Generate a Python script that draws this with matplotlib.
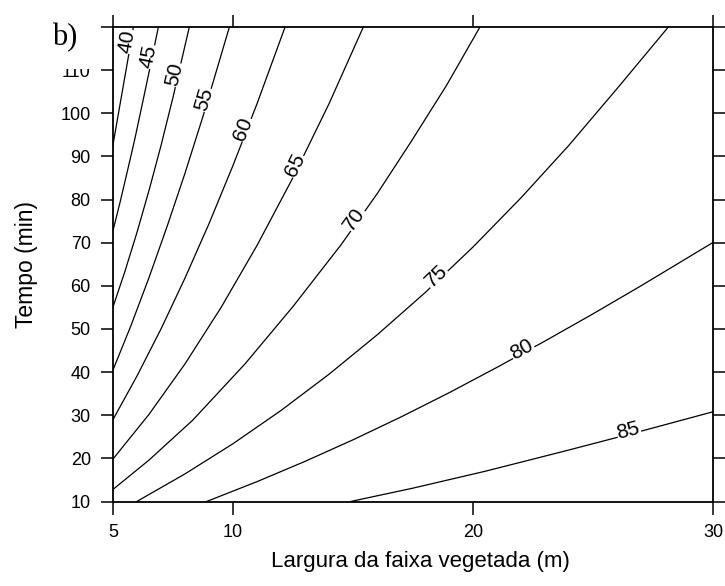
import numpy as np
import matplotlib.pyplot as plt
from matplotlib.patches import Rectangle
from matplotlib.transforms import offset_copy

plt.rcParams.update({'font.family': 'Liberation Sans'})

# contour levels and the points of each contour line
levels = [40, 45, 50, 55, 60, 65, 70, 75, 80, 85]

x40 = [5.0, 5.3, 5.6, 5.85]
y40 = [92.7, 102.3, 111.8, 120.0]
x45 = [5.0, 5.3, 5.6, 5.9, 6.2, 6.55, 6.89]
y45 = [72.8, 79.5, 86.6, 93.8, 101.6, 110.8, 120.0]
x50 = [5.0, 5.5, 6.0, 6.5, 7.0, 7.5, 8.18]
y50 = [55.1, 63.4, 72.4, 82.1, 92.5, 103.7, 120.0]
x55 = [5.0, 5.75, 6.5, 7.25, 8.0, 8.75, 9.85]
y55 = [40.5, 50.8, 61.9, 73.7, 86.1, 99.3, 120.0]
x60 = [5.0, 6.0, 7.0, 8.0, 9.0, 10.0, 11.0, 12.17]
y60 = [29.0, 39.1, 50.0, 61.8, 74.4, 87.9, 102.2, 120.0]
x65 = [5.0, 6.5, 8.0, 9.5, 11.0, 12.5, 14.0, 15.43]
y65 = [19.85, 30.2, 41.9, 54.95, 69.35, 85.1, 102.2, 120.0]
x70 = [5.0, 6.5, 8.33, 10.5, 12.5, 14.5, 16.0, 17.43, 18.9, 20.29]
y70 = [12.8, 19.6, 28.9, 41.9, 55.2, 69.5, 81.3, 93.5, 106.5, 120.0]
x75 = [5.99, 8.0, 10.0, 12.0, 14.0, 16.0, 18.0, 20.0, 22.0, 24.0, 26.0, 28.14]
y75 = [10.0, 16.4, 23.4, 31.1, 39.5, 48.6, 58.4, 69.0, 80.4, 92.6, 105.7, 120.0]
x80 = [8.9, 11.0, 13.0, 15.0, 17.0, 19.0, 21.0, 23.0, 25.0, 27.0, 30.0]
y80 = [10.0, 14.6, 19.3, 24.3, 29.6, 35.2, 41.1, 47.2, 53.5, 60.0, 70.05]
x85 = [14.9, 17.5, 20.5, 23.9, 27.0, 30.0]
y85 = [10.0, 13.1, 17.0, 21.8, 26.3, 30.8]

# height (Tempo) on each line where its label sits
label_y = [116.5, 113.0, 108.8, 103.0, 96.1, 87.6, 75.0, 61.5, 44.5, 25.6]

x_ticks = [5, 10, 20, 30]
y_ticks = [10, 20, 30, 40, 50, 60, 70, 80, 90, 100, 110, 120]
y_tick_labels = ['10', '20', '30', '40', '50', '60', '70', '80', '90', '100', '110', '']

lines_x = [x40, x45, x50, x55, x60, x65, x70, x75, x80, x85]
lines_y = [y40, y45, y50, y55, y60, y65, y70, y75, y80, y85]

fig = plt.figure(figsize=(7.25, 5.86), dpi=100)
ax = fig.add_axes([113 / 725, 1 - 501.5 / 586, 600 / 725, 474.5 / 586])
ax.set_xlim(5, 30)
ax.set_ylim(10, 120)

for lev, xs, ys, ly in zip(levels, lines_x, lines_y, label_y):
    ax.plot(xs, ys, color='black', lw=0.9, zorder=2)
    lx = np.interp(ly, ys, xs)
    i = int(np.clip(np.searchsorted(ys, ly), 1, len(ys) - 1))
    p0 = ax.transData.transform((xs[i - 1], ys[i - 1]))
    p1 = ax.transData.transform((xs[i], ys[i]))
    ang = np.arctan2(p1[1] - p0[1], p1[0] - p0[0])
    # label sits just above / left of its line
    tr = offset_copy(ax.transData, fig=fig, x=-np.sin(ang) * 6, y=np.cos(ang) * 6,
                     units='dots')
    ax.text(lx, ly, str(lev), transform=tr, rotation=np.degrees(ang),
            rotation_mode='anchor', ha='center', va='center_baseline',
            fontsize=15, zorder=3,
            bbox=dict(fc='white', ec='none', pad=0.3))

ax.set_xticks(x_ticks)
ax.set_yticks(y_ticks)
ax.set_yticklabels(y_tick_labels)
ax.tick_params(direction='out', length=9, width=1.1, top=True, right=True,
               labeltop=False, labelright=False, labelsize=13, pad=7)
for s in ax.spines.values():
    s.set_linewidth(1.3)

ax.set_xlabel('Largura da faixa vegetada (m)', fontsize=16)
ax.set_ylabel('Tempo (min)', fontsize=16.5)
ax.xaxis.set_label_coords(0.512, -0.105)
ax.yaxis.set_label_coords(-0.125, 0.5)

# panel letter sits on a white patch that clips the top tick label
fig.patches.append(Rectangle((0, 1 - 68.5 / 586), 100 / 725, 68.5 / 586,
                             transform=fig.transFigure, fc='white', ec='none', zorder=5))
fig.text(52 / 725, 1 - 45 / 586, 'b)', family='Liberation Serif', fontsize=22,
         ha='left', va='baseline', zorder=6)

plt.savefig('out.png', dpi=100)
